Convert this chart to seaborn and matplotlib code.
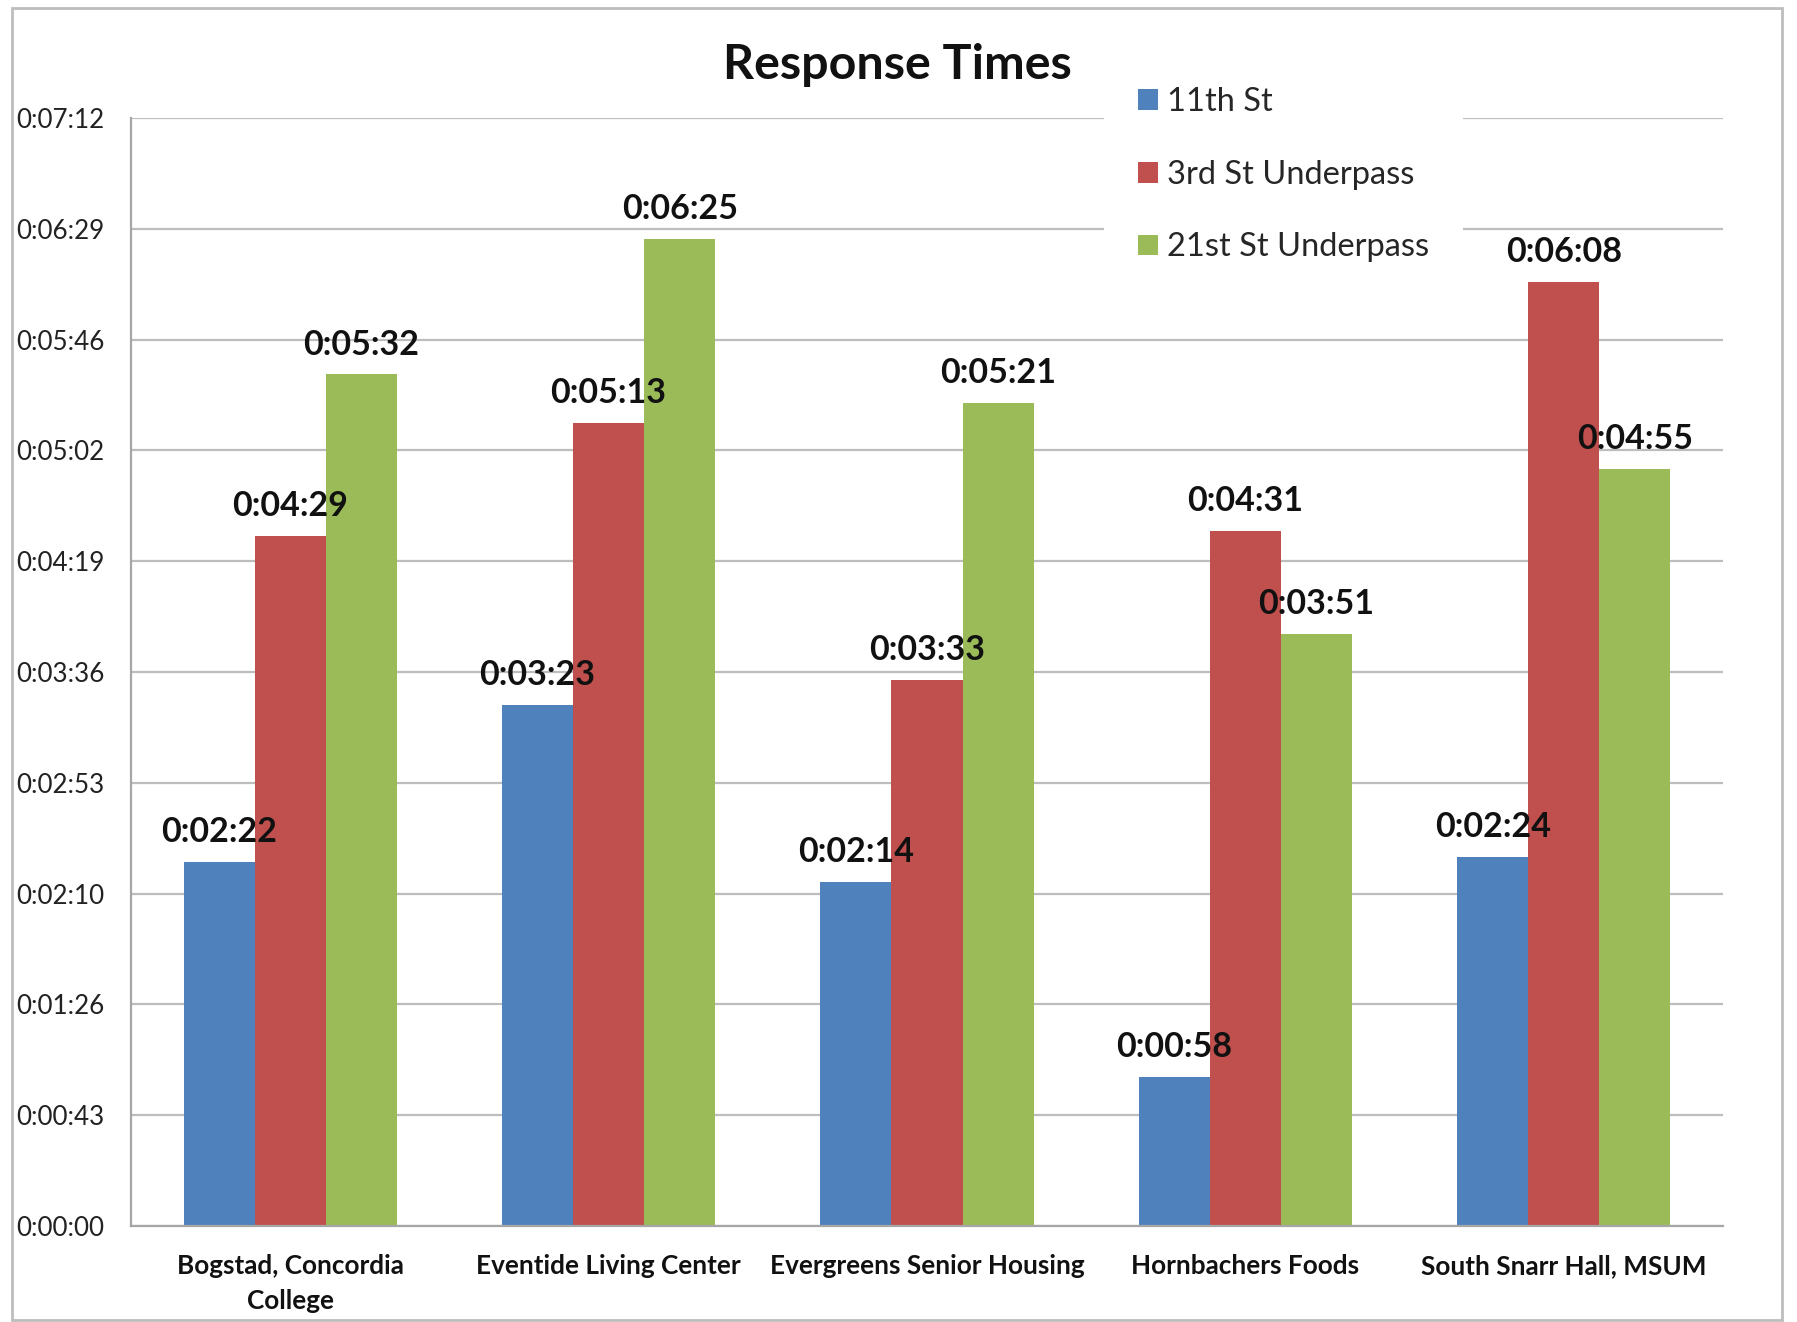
import numpy as np
import pandas as pd
import matplotlib
matplotlib.use("Agg")
import matplotlib.pyplot as plt
from matplotlib.patches import Patch, Rectangle
from matplotlib.ticker import FixedLocator, FuncFormatter
import seaborn as sns

# Locations and routes
locations = ["Bogstad, Concordia\nCollege", "Eventide Living Center",
             "Evergreens Senior Housing", "Hornbachers Foods",
             "South Snarr Hall, MSUM"]
routes = ["11th St", "3rd St Underpass", "21st St Underpass"]

# Response times in seconds
t_11th = [142, 203, 134, 58, 144]
t_3rd = [269, 313, 213, 271, 368]
t_21st = [332, 385, 321, 231, 295]

route_colors = ["#4F81BD", "#C0504D", "#9BBB59"]
y_max = 432      # 0:07:12
n_steps = 10


def hms(s):
    s = int(round(s))
    return f"{s // 3600}:{(s % 3600) // 60:02d}:{s % 60:02d}"


df = pd.DataFrame({
    "Location": locations * len(routes),
    "Route": np.repeat(routes, len(locations)),
    "Seconds": t_11th + t_3rd + t_21st,
})

sns.set_theme(style="white")
plt.rcParams["font.family"] = ["Lato", "DejaVu Sans"]

W, H = 1797, 1322
fig = plt.figure(figsize=(W / 100, H / 100), dpi=100)
ax = fig.add_axes([131 / W, 1 - 1226 / H, (1723 - 131) / W, (1226 - 118) / H])

sns.barplot(data=df, x="Location", y="Seconds", hue="Route",
            order=locations, hue_order=routes, palette=route_colors,
            width=0.67, saturation=1, errorbar=None, legend=False,
            linewidth=0, ax=ax)

for cont in ax.containers:
    ax.bar_label(cont, labels=[hms(v) for v in cont.datavalues],
                 padding=10, fontsize=24.5, fontweight="bold", color="#111111")

ax.set_ylim(0, y_max)
ax.yaxis.set_major_locator(FixedLocator(np.linspace(0, y_max, n_steps + 1)))
ax.yaxis.set_major_formatter(FuncFormatter(lambda v, p: hms(v)))
ax.yaxis.grid(True, color="#BDBDBD", linewidth=1.6)
ax.set_axisbelow(True)
ax.set_xlabel("")
ax.set_ylabel("")
ax.set_xlim(-0.5, len(locations) - 0.5)

for side in ["top", "right"]:
    ax.spines[side].set_visible(False)
for side in ["left", "bottom"]:
    ax.spines[side].set_color("#A6A6A6")
    ax.spines[side].set_linewidth(1.6)

ax.tick_params(axis="y", length=0, pad=19, labelsize=18.7, labelcolor="#222222")
ax.tick_params(axis="x", length=0, pad=20, labelsize=18.8, labelcolor="#111111")
for lab in ax.get_xticklabels():
    lab.set_fontweight("bold")
    lab.set_linespacing(1.55)

fig.text(897 / W, 1 - 65 / H, "Response Times", ha="center", va="center",
         fontsize=34.8, fontweight="bold", color="#111111")

handles = [Patch(facecolor=c, edgecolor="none", label=r)
           for c, r in zip(route_colors, routes)]
ax.legend(handles=handles, loc="upper left",
          bbox_to_anchor=(1104 / W, 1 - 53 / H), bbox_transform=fig.transFigure,
          frameon=True, facecolor="white", edgecolor="none", framealpha=1,
          fontsize=23.5, handlelength=0.6, handleheight=0.6, handletextpad=0.3,
          labelspacing=1.31, borderpad=1.04, borderaxespad=0)

# outer chart border
fig.patches.append(Rectangle((12 / W, 2 / H), 1770 / W, 1312 / H,
                             transform=fig.transFigure, fill=False,
                             edgecolor="#BDBDBD", linewidth=2))

fig.savefig("out.png", dpi=100)
